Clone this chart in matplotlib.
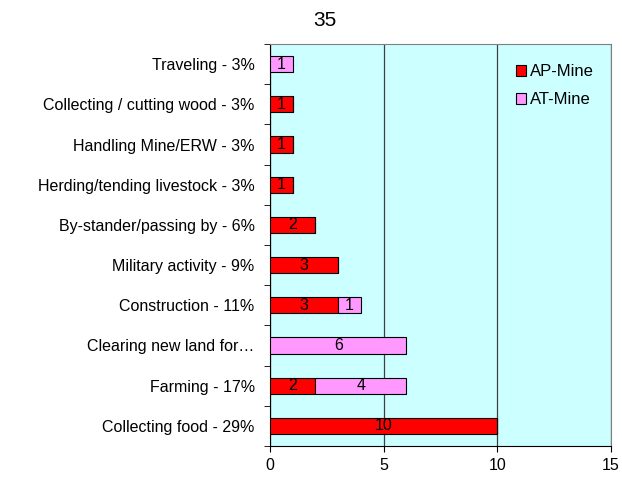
import matplotlib
matplotlib.use("Agg")
import matplotlib.pyplot as plt
import numpy as np

plt.rcParams['font.family'] = ['Liberation Sans', 'DejaVu Sans']

# categories listed bottom to top
categories = ["Collecting food - 29%", "Farming - 17%", "Clearing new land for\u2026",
              "Construction - 11%", "Military activity - 9%", "By-stander/passing by - 6%",
              "Herding/tending livestock - 3%", "Handling Mine/ERW - 3%",
              "Collecting / cutting wood - 3%", "Traveling - 3%"]
ap_mine = [10, 2, 0, 3, 3, 2, 1, 1, 1, 0]
at_mine = [0, 4, 6, 1, 0, 0, 0, 0, 0, 1]
title = "35"

fig = plt.figure(figsize=(6.22, 4.78), dpi=100)
ax = fig.add_axes([270/622, 1-446/478, (611-270)/622, (446-44)/478])
ax.set_facecolor('#CCFFFF')

y = np.arange(len(categories))
h = 0.4
ax.barh(y, ap_mine, height=h, color='#FF0000', edgecolor='black', linewidth=0.8,
        label='AP-Mine', zorder=3)
ax.barh(y, at_mine, height=h, left=ap_mine, color='#FF99FF', edgecolor='black',
        linewidth=0.8, label='AT-Mine', zorder=3)

for i in range(len(categories)):
    if ap_mine[i] > 0:
        ax.text(ap_mine[i]/2, y[i], str(ap_mine[i]), ha='center', va='center',
                fontsize=11.5, zorder=4)
    if at_mine[i] > 0:
        ax.text(ap_mine[i] + at_mine[i]/2, y[i], str(at_mine[i]), ha='center',
                va='center', fontsize=11.5, zorder=4)

ax.set_xlim(0, 15)
ax.set_ylim(-0.5, len(categories) - 0.5)
ax.set_xticks([0, 5, 10, 15])
ax.set_yticks(y)
ax.set_yticklabels(categories, fontsize=11.5)
ax.set_yticks(np.arange(len(categories) + 1) - 0.5, minor=True)
ax.tick_params(axis='y', which='major', length=0, pad=11)
ax.tick_params(axis='y', which='minor', length=4, direction='out', color='black')
ax.tick_params(axis='x', length=4, direction='out', labelsize=11.5, pad=5)
ax.xaxis.grid(True, color='#404040', linewidth=0.9, zorder=1)
ax.set_axisbelow(True)

for s in ['top', 'right']:
    ax.spines[s].set_color('#808080')
for s in ['left', 'bottom']:
    ax.spines[s].set_color('black')

ax.legend(loc='upper left', bbox_to_anchor=(0.722, 0.95), frameon=False,
          fontsize=12, handlelength=0.6, handleheight=0.6, handletextpad=0.2,
          labelspacing=0.8, borderpad=0, borderaxespad=0)

fig.text(325/622, 1-20/478, title, ha='center', va='center', fontsize=15)

fig.savefig("out.png", dpi=100)
